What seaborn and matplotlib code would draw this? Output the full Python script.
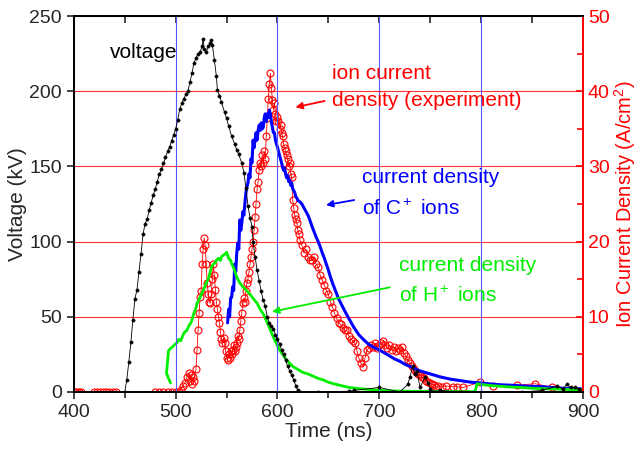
import matplotlib
matplotlib.use("Agg")
import matplotlib.pyplot as plt
from matplotlib.ticker import MultipleLocator
import seaborn as sns

# voltage (kV)
volt_t = [450, 452, 454, 456, 458, 460, 462, 464, 466, 468, 470, 472, 474, 476, 478,
          480, 482, 484, 486, 488, 490, 492, 494, 496, 498, 500, 502, 504, 506, 508,
          510, 512, 514, 516, 518, 520, 522, 524, 526, 527, 528, 530, 532, 534, 535,
          536, 538, 540, 541, 543, 545, 548, 550, 552, 555, 558, 560, 562, 565, 567,
          569, 571, 573, 575, 576, 578, 580, 582, 584, 586, 588, 590, 592, 594, 596,
          598, 600, 602, 604, 606, 608, 610, 612, 614, 616, 618, 620, 622,
          640, 670, 675, 700, 720, 728, 730, 733, 735, 737, 740, 745, 748, 750, 755,
          760, 780, 800, 840, 860, 875, 880, 884, 888, 892, 896, 900]
volt_kv = [0, 8, 20, 33, 48, 62, 68, 80, 92, 105, 112, 115, 121, 126, 131,
           135, 140, 145, 148, 152, 156, 160, 163, 167, 171, 175, 181, 188, 192, 195,
           198, 200, 206, 212, 219, 222, 225, 226, 230, 235, 228, 226, 230, 232, 234,
           231, 221, 210, 201, 197, 193, 186, 182, 177, 170, 165, 161, 158, 152, 146,
           136, 124, 116, 110, 100, 90, 81, 74, 67, 61, 57, 50, 46, 44, 42,
           38, 35, 32, 28, 25, 21, 17, 14, 11, 8, 4, 1, 0,
           0, 0.5, 1, 3, 0, 5, 10, 17, 12, 14, 3, 10, 6, 2, 0,
           1, 0, 0, 0, 1, 4, 2, 5, 3, 3, 2, 1]

# ion current density, experiment (A/cm2)
exp_t = [401, 403, 405, 407, 420, 423, 426, 429, 432, 435, 438, 441, 480, 484, 488,
         492, 496, 500, 503, 505, 507, 509, 511, 513, 514, 515, 516, 517, 518, 520,
         521, 522, 523, 524, 525, 526, 527, 528, 529, 530, 531, 532, 533, 534, 535,
         536, 537, 538, 539, 540, 541, 542, 543, 544, 545, 546, 547, 548, 549, 550,
         551, 552, 553, 554, 555, 556, 557, 558, 559, 560, 561, 562, 563, 564, 565,
         566, 567, 568, 569, 570, 571, 572, 573, 574, 575, 576, 577, 578, 579, 580,
         581, 582, 583, 584, 585, 586, 587, 588, 589, 590, 591, 592, 593, 594, 595,
         596, 597, 598, 599, 600, 601, 602, 603, 604, 605, 606, 607, 608, 609, 610,
         611, 612, 613, 614, 615, 616, 617, 618, 619, 620, 621, 622, 624, 626, 628,
         630, 632, 634, 636, 638, 640, 642, 644, 646, 648, 650, 652, 654, 656, 658,
         660, 662, 664, 666, 668, 670, 672, 674, 676, 678, 680, 682, 684, 686, 688,
         690, 692, 694, 696, 698, 700, 702, 704, 706, 708, 710, 712, 714, 716, 718,
         720, 722, 724, 726, 728, 730, 732, 734, 736, 738, 740, 742, 744, 746, 748,
         750, 752, 754, 756, 758, 762, 766, 772, 776, 782, 799, 812, 835, 853, 870]
exp_j = [0, 0, 0, 0, 0, 0, 0, 0, 0, 0, 0, 0, 0, 0, 0,
         0, 0, 0, 0, 0.3, 0.8, 1.2, 2.0, 2.5, 1.5, 2.2, 1.0, 2.0, 1.5, 3.0,
         5.6, 8.2, 10.5, 12.6, 13.5, 17, 19, 20.5, 19.5, 17, 14.5, 13, 12, 11.8, 13,
         15, 17, 15.5, 13.6, 12, 11, 10, 9.2, 8, 7, 6.5, 7.2, 6.5, 5.5, 4.5,
         4.3, 5, 4.5, 5.5, 5, 5.6, 6.2, 5.5, 6, 6.5, 7.5, 7, 8.2, 9.5, 10.5,
         11.8, 12.5, 12, 13.5, 14.5, 15, 16, 17, 18, 19, 20, 21.5, 23.3, 25, 27,
         28, 29.5, 30.5, 30, 31.5, 30.5, 32, 31, 34, 36.5, 39, 41, 42.4, 40.5, 38.8,
         37.5, 38.5, 37, 36, 36.6, 36, 35, 35.5, 34.5, 34, 33, 32.5, 32, 31.5, 31,
         30, 30.5, 29, 28.6, 25.5, 24.5, 23.5, 23, 22.5, 21.5, 21, 20.2, 19.5, 18.5, 19,
         18, 17.5, 17.5, 18, 17, 16.6, 15.5, 14.9, 14.2, 13.5, 13, 12, 11.3, 10.5, 9.8,
         9.2, 9, 8.5, 8.2, 8.2, 7.5, 7, 6.8, 6.5, 5.5, 4.5, 3.8, 3.3, 4.5, 5.6,
         5.8, 6.2, 6.0, 6.5, 5.8, 6.2, 6.5, 6.8, 6.3, 5.8, 6.2, 5.6, 6.0, 5.5, 5.8,
         5.6, 6.0, 5.2, 4.8, 4.2, 3.9, 3.5, 3.0, 2.6, 2.4, 2.2, 2.0, 1.8, 1.5, 1.3,
         1.2, 1.0, 0.9, 0.7, 0.8, 0.7, 0.8, 0.7, 0.7, 0.6, 1.3, 0.8, 0.9, 1.1, 0.6]

# current density of C+ ions (A/cm2)
c_t = [551, 552, 553, 554, 555, 556, 557, 558, 559, 560, 561, 562, 563, 564, 565,
       566, 567, 568, 569, 570, 571, 572, 573, 574, 575, 576, 577, 578, 579, 580,
       581, 582, 583, 584, 585, 586, 587, 588, 589, 590, 591, 592, 593, 594, 595,
       596, 597, 598, 599, 600, 601, 602, 603, 604, 605, 606, 607, 608, 609, 610,
       611, 612, 613, 614, 615, 616, 617, 618, 619, 620, 622, 624, 626, 628, 630,
       632, 634, 636, 638, 640, 642, 644, 646, 648, 650, 652, 654, 656, 658, 660,
       663, 666, 670, 675, 680, 685, 690, 695, 700, 705, 710, 715, 720, 725, 730,
       735, 740, 745, 750, 760, 770, 780, 790, 800, 810, 820, 830, 840, 850, 860,
       870, 880, 890, 900]
c_j = [9.2, 11, 10, 12.5, 12.6, 14, 13.5, 17, 16, 18.5, 19.8, 19, 22.9, 21.5, 22.5,
       24, 23.5, 25.1, 26.5, 27.3, 27.8, 29, 28.5, 31, 30.5, 33.5, 32.5, 33.5, 34.5, 33.5,
       34.8, 35.5, 34.8, 35.8, 35, 35.2, 36.5, 37, 36, 37, 36.5, 37.5, 37, 36, 35.2,
       34.5, 34.5, 33.5, 33, 32.6, 32, 31.5, 31, 30.5, 29.9, 29.5, 29.8, 29, 28.5, 28.8,
       28, 28.2, 27.5, 27.8, 27, 26.8, 26.5, 26, 25.8, 25.5, 25.3, 25, 24.5, 24, 23.5,
       22.8, 22, 21.3, 20.6, 20, 19.3, 18.5, 17.8, 17, 16.2, 15.3, 14.5, 13.8, 13.1, 12.4,
       11.6, 10.8, 9.8, 8.6, 7.6, 6.9, 6.3, 5.9, 5.6, 5.2, 4.8, 4.4, 4.1, 3.7, 3.4,
       3.1, 2.8, 2.6, 2.4, 2.0, 1.7, 1.5, 1.3, 1.2, 1.05, 0.95, 0.9, 0.8, 0.75, 0.7,
       0.6, 0.5, 0.45, 0.4]

# current density of H+ ions (A/cm2)
h_t = [495, 493, 491, 492, 493, 495, 497, 499, 501, 503, 505, 507, 509, 511, 513,
       515, 516, 518, 520, 521, 522, 524, 526, 528, 530, 532, 534, 535, 537, 539,
       540, 542, 544, 545, 547, 549, 550, 552, 554, 555, 557, 560, 563, 566, 569,
       573, 577, 580, 583, 586, 589, 592, 595, 598, 602, 606, 610, 615, 620, 625,
       630, 635, 640, 645, 650, 655, 661, 670, 680, 694, 710, 727, 760, 794, 796,
       800, 810, 820, 830, 840, 850, 860, 870, 880, 890, 900]
h_j = [1.2, 1.8, 2.5, 4, 5.5, 5.8, 6, 6.3, 6.5, 7, 6.8, 7.5, 8, 8.2, 8.8,
       9.2, 9.6, 10.5, 11.2, 11.8, 12, 12.6, 13.2, 13.8, 14.5, 15, 16, 16.6, 17, 17.2,
       17.5, 17.8, 17.5, 18, 18.2, 18.4, 18.6, 17.8, 17.5, 17.1, 16.5, 15.3, 14.5, 14, 13.6,
       13.0, 12.3, 11.8, 11, 10.4, 9.5, 8.6, 7.6, 6.7, 5.6, 4.8, 4.1, 3.4, 3.0, 2.6,
       2.4, 2.1, 1.8, 1.6, 1.3, 1.1, 0.9, 0.6, 0.45, 0.3, 0.15, 0.1, 0.05, 0.05, 1.1,
       1.0, 0.85, 0.75, 0.65, 0.6, 0.5, 0.45, 0.4, 0.35, 0.3, 0.3]

sns.set_theme(style="ticks")
plt.rcParams['font.family'] = ['Liberation Sans', 'DejaVu Sans']
plt.rcParams['mathtext.fontset'] = 'custom'
plt.rcParams['mathtext.rm'] = 'Liberation Sans'
plt.rcParams['mathtext.it'] = 'Liberation Sans'

fig, ax = plt.subplots(figsize=(6.42, 4.49), dpi=100)
fig.subplots_adjust(left=0.115, right=0.908, top=0.964, bottom=0.127)
ax2 = ax.twinx()
ax.set_zorder(ax2.get_zorder() + 1)
ax.patch.set_visible(False)

sns.lineplot(x=exp_t, y=exp_j, ax=ax2, estimator=None, sort=False, color='red',
             lw=0.6, marker='o', markersize=5, markerfacecolor='none',
             markeredgecolor='red', markeredgewidth=0.8)
sns.lineplot(x=c_t, y=c_j, ax=ax2, estimator=None, sort=False, color='#0000ff', lw=2.2)
sns.lineplot(x=h_t, y=h_j, ax=ax2, estimator=None, sort=False, color='#00ee00', lw=2.0)
sns.lineplot(x=volt_t, y=volt_kv, ax=ax, estimator=None, sort=False, color='black',
             lw=0.6, marker='o', markersize=2.4, markeredgecolor='black',
             markeredgewidth=0.3)

ax.set_xlim(400, 900)
ax.set_ylim(0, 250)
ax2.set_ylim(0, 50)
ax.xaxis.set_major_locator(MultipleLocator(100))
ax.xaxis.set_minor_locator(MultipleLocator(50))
ax.yaxis.set_major_locator(MultipleLocator(50))
ax2.yaxis.set_major_locator(MultipleLocator(10))
ax2.yaxis.set_minor_locator(MultipleLocator(5))

ax.grid(axis='x', which='major', color='#5555ff', lw=0.8)
ax2.grid(axis='y', which='major', color='#ff3333', lw=0.8)

ax.tick_params(axis='x', which='both', direction='out', top=False, labelsize=14)
ax.tick_params(axis='x', which='major', length=5, width=1.2)
ax.tick_params(axis='x', which='minor', length=4, width=1.2)
ax.tick_params(axis='y', direction='out', length=5, width=1.2, labelsize=14)
top = ax.secondary_xaxis('top')
top.xaxis.set_major_locator(MultipleLocator(100))
top.xaxis.set_minor_locator(MultipleLocator(50))
top.tick_params(axis='x', which='both', direction='in', labeltop=False, length=5, width=1.2)
ax2.tick_params(axis='y', which='both', direction='in', colors='red', labelsize=14, width=1.2)
ax2.tick_params(axis='y', which='major', length=5)
ax2.tick_params(axis='y', which='minor', length=4)

for a in (ax, ax2):
    for s in a.spines.values():
        s.set_linewidth(1.4)
        s.set_color('black')
    a.spines['right'].set_color('red')
top.spines['top'].set_linewidth(1.4)

ax.set_xlabel("Time (ns)", fontsize=15, labelpad=1)
ax.set_ylabel("Voltage (kV)", fontsize=15, labelpad=2)
ax2.set_ylabel("Ion Current Density (A/cm$^2$)", fontsize=14.5, color='red', labelpad=2)

ax.text(435, 226, "voltage", fontsize=15, color='black', va='center')
ax.text(654, 212, "ion current", fontsize=15, color='red', va='center')
ax.text(654, 194, "density (experiment)", fontsize=15, color='red', va='center')
ax.text(683, 143, "current density", fontsize=15, color='#0000ff', va='center')
ax.text(683, 122, "of C$^+$ ions", fontsize=15, color='#0000ff', va='center')
ax.text(719, 84, "current density", fontsize=15, color='#00ee00', va='center')
ax.text(719, 64, "of H$^+$ ions", fontsize=15, color='#00ee00', va='center')

ax.annotate("", xy=(615, 189), xytext=(649, 194),
            arrowprops=dict(arrowstyle='-|>', color='red', lw=1.3, mutation_scale=10))
ax.annotate("", xy=(645, 124), xytext=(678, 128),
            arrowprops=dict(arrowstyle='-|>', color='#0000ff', lw=1.3, mutation_scale=10))
ax.annotate("", xy=(592, 53), xytext=(713, 70),
            arrowprops=dict(arrowstyle='-|>', color='#00ee00', lw=1.3, mutation_scale=10))

fig.savefig("out.png", dpi=100)
